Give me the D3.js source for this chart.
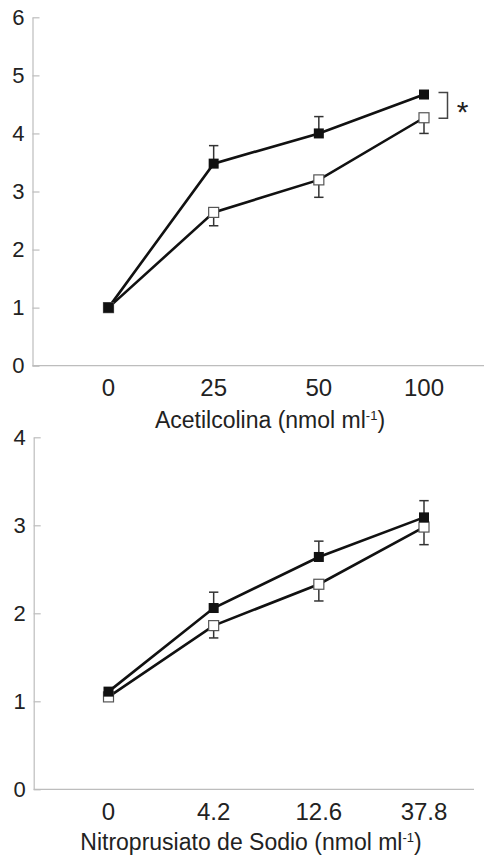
<!DOCTYPE html>
<html>
<head>
<meta charset="utf-8">
<script src="https://cdn.jsdelivr.net/npm/d3@7"></script>
<style>
  body { margin: 0; background: #fff; }
  svg { display: block; font-family: 'Liberation Sans', Arial, sans-serif; }
</style>
</head>
<body>
<div id="chart"></div>
<script>
// Acetilcolina panel
const achDoses = ['0', '25', '50', '100'];
const achFilled = [1.0, 3.48, 4.0, 4.67];
const achFilledErr = [0, 0.31, 0.29, 0];
const achOpen = [1.0, 2.64, 3.2, 4.27];
const achOpenErr = [0, 0.23, 0.3, 0.27];
const achTicks = [0, 1, 2, 3, 4, 5, 6];

// Nitroprusiato panel
const npsDoses = ['0', '4.2', '12.6', '37.8'];
const npsFilled = [1.11, 2.06, 2.64, 3.09];
const npsFilledErr = [0, 0.18, 0.18, 0.19];
const npsOpen = [1.05, 1.86, 2.33, 2.98];
const npsOpenErr = [0, 0.14, 0.19, 0.2];
const npsTicks = [0, 1, 2, 3, 4];

const width = 484;
const height = 856;
const boxSize = 10;
const capHalf = 4.7;

const svg = d3
  .select('#chart')
  .append('svg')
  .attr('width', width)
  .attr('height', height);

const drawPanel = ({
  doses, filled, filledErr, open, openErr, ticks,
  top, bottom, axisX, axisEnd, title, titleX, titleY, labelY,
}) => {
  const g = svg.append('g');

  const x = d3.scalePoint().domain(doses).range([108.5, 424]);
  const y = d3
    .scaleLinear()
    .domain([0, d3.max(ticks)])
    .range([bottom, top]);

  // y axis, ticks pointing into the plot
  const yG = g
    .append('g')
    .attr('transform', `translate(${axisX},0)`)
    .call(
      d3.axisLeft(y)
        .tickValues(ticks)
        .tickFormat(d3.format('d'))
        .tickSizeInner(-7)
        .tickSizeOuter(0)
        .tickPadding(8)
    );
  yG.select('.domain').attr('stroke', '#bdbdbd').attr('stroke-width', 1.2);
  yG.selectAll('.tick line').attr('stroke', '#bdbdbd').attr('stroke-width', 1.2);
  yG.selectAll('.tick text')
    .attr('fill', '#222')
    .style('font-size', '22px')
    .style('font-family', "'Liberation Sans', Arial, sans-serif");

  // x axis line
  g.append('line')
    .attr('x1', axisX)
    .attr('x2', axisEnd)
    .attr('y1', bottom)
    .attr('y2', bottom)
    .attr('stroke', '#bdbdbd')
    .attr('stroke-width', 1.2);

  // x tick labels
  g.selectAll('text.xlab')
    .data(doses)
    .enter()
    .append('text')
    .attr('class', 'xlab')
    .attr('x', d => x(d))
    .attr('y', labelY)
    .attr('text-anchor', 'middle')
    .attr('fill', '#222')
    .style('font-size', '24px')
    .text(d => d);

  // axis title with superscript
  const t = g.append('text')
    .attr('x', titleX)
    .attr('y', titleY)
    .attr('text-anchor', 'middle')
    .attr('fill', '#222')
    .style('font-size', '23px');
  t.append('tspan').text(title + ' (nmol ml');
  t.append('tspan').attr('dy', -8).style('font-size', '13px').text('-1');
  t.append('tspan').attr('dy', 8).text(')');

  const line = d3.line()
    .x((d, i) => x(doses[i]))
    .y(d => y(d));

  [open, filled].forEach(series => {
    g.append('path')
      .datum(series)
      .attr('fill', 'none')
      .attr('stroke', '#111')
      .attr('stroke-width', 2.6)
      .attr('d', line);
  });

  // error bars: filled upward, open downward
  const drawErr = (vals, errs, dir) => {
    vals.forEach((v, i) => {
      if (!errs[i]) return;
      const cx = x(doses[i]);
      const y0 = y(v);
      const y1 = y(v + dir * errs[i]);
      g.append('line')
        .attr('x1', cx).attr('x2', cx)
        .attr('y1', y0).attr('y2', y1)
        .attr('stroke', '#333').attr('stroke-width', 1.5);
      g.append('line')
        .attr('x1', cx - capHalf).attr('x2', cx + capHalf)
        .attr('y1', y1).attr('y2', y1)
        .attr('stroke', '#333').attr('stroke-width', 1.5);
    });
  };
  drawErr(filled, filledErr, 1);
  drawErr(open, openErr, -1);

  g.selectAll('rect.open')
    .data(open)
    .enter()
    .append('rect')
    .attr('class', 'open')
    .attr('x', (d, i) => x(doses[i]) - boxSize / 2)
    .attr('y', d => y(d) - boxSize / 2)
    .attr('width', boxSize)
    .attr('height', boxSize)
    .attr('fill', '#fff')
    .attr('stroke', '#555')
    .attr('stroke-width', 1.2);

  g.selectAll('rect.filled')
    .data(filled)
    .enter()
    .append('rect')
    .attr('class', 'filled')
    .attr('x', (d, i) => x(doses[i]) - boxSize / 2)
    .attr('y', d => y(d) - boxSize / 2)
    .attr('width', boxSize)
    .attr('height', boxSize)
    .attr('fill', '#111');

  return { x, y, g };
};

const ach = drawPanel({
  doses: achDoses,
  filled: achFilled,
  filledErr: achFilledErr,
  open: achOpen,
  openErr: achOpenErr,
  ticks: achTicks,
  top: 17.3,
  bottom: 365.7,
  axisX: 32.5,
  axisEnd: 484,
  title: 'Acetilcolina',
  titleX: 270,
  titleY: 428,
  labelY: 396,
});

drawPanel({
  doses: npsDoses,
  filled: npsFilled,
  filledErr: npsFilledErr,
  open: npsOpen,
  openErr: npsOpenErr,
  ticks: npsTicks,
  top: 437.3,
  bottom: 789.3,
  axisX: 33.7,
  axisEnd: 474,
  title: 'Nitroprusiato de Sodio',
  titleX: 251,
  titleY: 850,
  labelY: 820,
});

// significance bracket between the two series at the last dose
const bx = ach.x(achDoses[3]) + 14.5;
const bTop = ach.y(achFilled[3]) - 2;
const bBot = ach.y(achOpen[3]) + 0.5;
ach.g.append('path')
  .attr('d', `M${bx},${bTop}H${bx + 9}V${bBot}H${bx}`)
  .attr('fill', 'none')
  .attr('stroke', '#444')
  .attr('stroke-width', 1.5);
ach.g.append('text')
  .attr('x', bx + 24)
  .attr('y', (bTop + bBot) / 2 + 17)
  .attr('text-anchor', 'middle')
  .attr('fill', '#222')
  .style('font-size', '30px')
  .text('*');
</script>
</body>
</html>
